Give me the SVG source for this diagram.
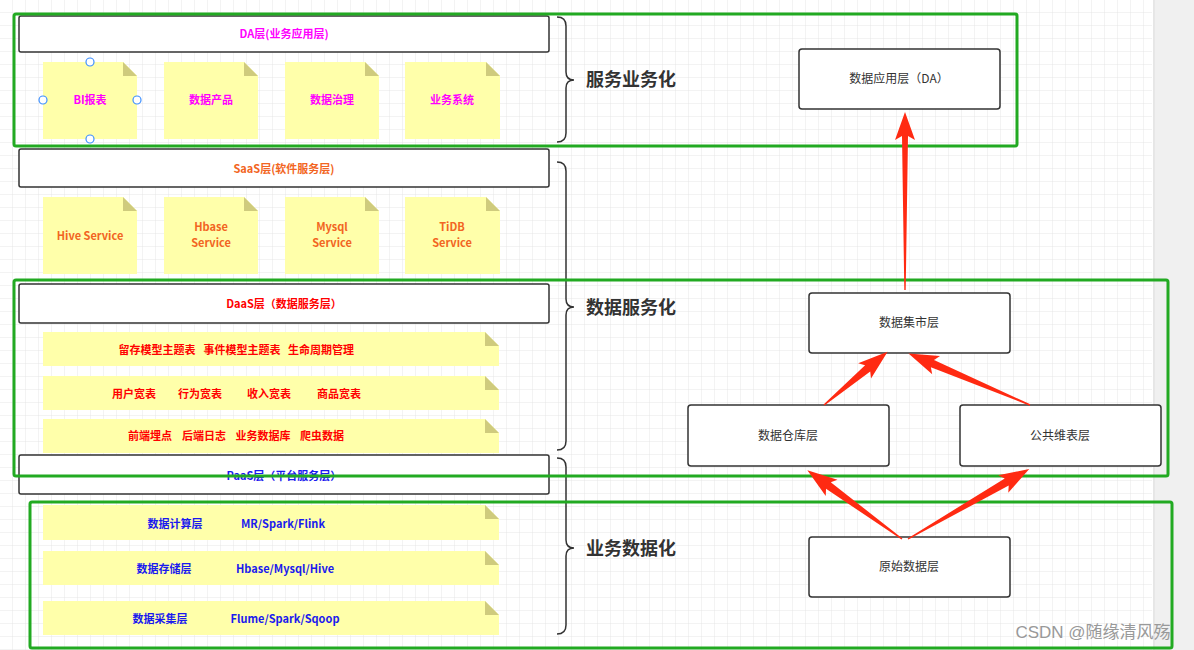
<svg xmlns="http://www.w3.org/2000/svg" width="1194" height="650" viewBox="0 0 1194 650">
<defs>
<pattern id="grid" width="13" height="13" patternUnits="userSpaceOnUse"><path d="M13 0V13H0" fill="none" stroke="#e6e6e6" stroke-width="1"/></pattern>
<style>
.hdr{fill:#fff;stroke:#333;stroke-width:1.5}
.note{fill:#ffffaa}
.fold{fill:#cfcb7d}
.grn{fill:none;stroke:#22aa22;stroke-width:3}
.box{fill:#fff;stroke:#333;stroke-width:1.5}
.brace{fill:none;stroke:#333;stroke-width:1.5}
.arr{fill:#ff2a12}
text{font-family:"Noto Sans CJK SC","Liberation Sans",sans-serif;text-anchor:middle}
.t{font-size:11px;font-weight:bold}
.big{font-size:18px;font-weight:bold;fill:#333;text-anchor:start}
.bt{font-size:12px;fill:#333}
.m{fill:#ff00ff}.o{fill:#f26522}.r{fill:#ff0000}.b{fill:#1a1aee}
.h{fill:#fff;stroke:#3d8fff;stroke-width:1.2}
</style>
</defs>
<rect width="1194" height="650" fill="#fff"/>
<rect x="0" y="0" width="1152" height="650" fill="url(#grid)"/>
<rect x="1153" y="0" width="41" height="650" fill="#f0f0f0"/>
<line x1="1154" y1="0" x2="1154" y2="650" stroke="#ddd"/>

<g id="da-layer">
<rect class="hdr" x="19" y="16" width="530" height="36" rx="2"/>
<text class="t m" x="284" y="38">DA层(业务应用层)</text>
</g>
<g id="da-notes">
<path class="note" d="M43 62H123L137 76V139H43Z"/><path class="fold" d="M123 62L137 76H123Z"/><text class="t m" x="90" y="104">BI报表</text>
<path class="note" d="M164 62H244L258 76V139H164Z"/><path class="fold" d="M244 62L258 76H244Z"/><text class="t m" x="211" y="104">数据产品</text>
<path class="note" d="M285 62H365L379 76V139H285Z"/><path class="fold" d="M365 62L379 76H365Z"/><text class="t m" x="332" y="104">数据治理</text>
<path class="note" d="M405 62H486L500 76V139H405Z"/><path class="fold" d="M486 62L500 76H486Z"/><text class="t m" x="452" y="104">业务系统</text>
<circle class="h" cx="90" cy="62" r="4"/><circle class="h" cx="43" cy="100" r="4"/><circle class="h" cx="137" cy="100" r="4"/><circle class="h" cx="90" cy="139" r="4"/>
</g>
<g id="saas-layer">
<rect class="hdr" x="19" y="149" width="530" height="38" rx="2"/>
<text class="t o" x="284" y="173">SaaS层(软件服务层)</text>
</g>
<g id="saas-notes">
<path class="note" d="M43 197H123L137 211V274H43Z"/><path class="fold" d="M123 197L137 211H123Z"/><text class="t o" x="90" y="240">Hive Service</text>
<path class="note" d="M164 197H244L258 211V274H164Z"/><path class="fold" d="M244 197L258 211H244Z"/><text class="t o" x="211" y="231">Hbase</text><text class="t o" x="211" y="247">Service</text>
<path class="note" d="M285 197H365L379 211V274H285Z"/><path class="fold" d="M365 197L379 211H365Z"/><text class="t o" x="332" y="231">Mysql</text><text class="t o" x="332" y="247">Service</text>
<path class="note" d="M405 197H486L500 211V274H405Z"/><path class="fold" d="M486 197L500 211H486Z"/><text class="t o" x="452" y="231">TiDB</text><text class="t o" x="452" y="247">Service</text>
</g>
<g id="daas-layer">
<rect class="hdr" x="19" y="284" width="530" height="39" rx="2"/>
<text class="t r" x="284" y="308">DaaS层（数据服务层）</text>
</g>
<g id="daas-notes">
<path class="note" d="M43 332H485L499 346V366H43Z"/><path class="fold" d="M485 332L499 346H485Z"/>
<text class="t r" x="157" y="354">留存模型主题表</text>
<text class="t r" x="242" y="354">事件模型主题表</text><text class="t r" x="321" y="354">生命周期管理</text>
<path class="note" d="M43 376H485L499 390V410H43Z"/><path class="fold" d="M485 376L499 390H485Z"/>
<text class="t r" x="134" y="398">用户宽表</text><text class="t r" x="200" y="398">行为宽表</text><text class="t r" x="269" y="398">收入宽表</text><text class="t r" x="339" y="398">商品宽表</text>
<path class="note" d="M43 419H485L499 433V453H43Z"/><path class="fold" d="M485 419L499 433H485Z"/>
<text class="t r" x="150" y="440">前端埋点</text><text class="t r" x="204" y="440">后端日志</text><text class="t r" x="263" y="440">业务数据库</text><text class="t r" x="322" y="440">爬虫数据</text>
</g>
<g id="paas-layer">
<rect class="hdr" x="19" y="455" width="530" height="39" rx="2"/>
<text class="t b" x="284" y="480">PaaS层（平台服务层）</text>
</g>
<g id="paas-notes">
<path class="note" d="M43 505H485L499 519V540H43Z"/><path class="fold" d="M485 505L499 519H485Z"/>
<text class="t b" x="175" y="528">数据计算层</text><text class="t b" x="283" y="528">MR/Spark/Flink</text>
<path class="note" d="M43 551H485L499 565V585H43Z"/><path class="fold" d="M485 551L499 565H485Z"/>
<text class="t b" x="164" y="573">数据存储层</text><text class="t b" x="285" y="573">Hbase/Mysql/Hive</text>
<path class="note" d="M43 601H485L499 615V635H43Z"/><path class="fold" d="M485 601L499 615H485Z"/>
<text class="t b" x="160" y="623">数据采集层</text><text class="t b" x="285" y="623">Flume/Spark/Sqoop</text>
</g>
<g id="braces">
<path class="brace" d="M557 17Q566 17 566 26V72Q566 80 574 80Q566 80 566 88V133Q566 142 557 142"/>
<path class="brace" d="M557 162Q566 162 566 171V299Q566 307 574 307Q566 307 566 315V441Q566 450 557 450"/>
<path class="brace" d="M557 458Q566 458 566 467V540Q566 548 574 548Q566 548 566 556V625Q566 634 557 634"/>
<text class="big" x="586" y="86">服务业务化</text>
<text class="big" x="586" y="314">数据服务化</text>
<text class="big" x="586" y="555">业务数据化</text>
</g>
<g id="green-groups">
<rect class="grn" x="14" y="14" width="1003" height="132" rx="2"/>
<rect class="grn" x="14" y="280" width="1154" height="196" rx="2"/>
<rect class="grn" x="30" y="502" width="1142" height="146" rx="2"/>
</g>
<g id="node-da"><rect class="box" x="799" y="49" width="201" height="60" rx="3"/><text class="bt" x="899" y="83">数据应用层（DA）</text></g>
<g id="node-mart"><rect class="box" x="809" y="293" width="201" height="60" rx="3"/><text class="bt" x="909" y="327">数据集市层</text></g>
<g id="node-dw"><rect class="box" x="688" y="405" width="201" height="61" rx="3"/><text class="bt" x="788" y="440">数据仓库层</text></g>
<g id="node-dim"><rect class="box" x="960" y="405" width="201" height="61" rx="3"/><text class="bt" x="1060" y="440">公共维表层</text></g>
<g id="node-raw"><rect class="box" x="809" y="537" width="201" height="60" rx="3"/><text class="bt" x="909" y="571">原始数据层</text></g>
<g id="connectors">
<polygon class="arr" transform="translate(905,290) rotate(-90)" points="0,-0.7 154,-3 150,-10 178,0 150,10 154,3 0,0.7"/>
<polygon class="arr" transform="translate(824,405) rotate(-40)" points="0,-0.7 57,-4 53,-10 83,0 53,10 57,4 0,0.7"/>
<polygon class="arr" transform="translate(1030,405) rotate(-157)" points="0,-0.7 106,-4 102,-10 132,0 102,10 106,4 0,0.7"/>
<polygon class="arr" transform="translate(902,539) rotate(-144)" points="0,-0.7 91,-4 87,-10 117,0 87,10 91,4 0,0.7"/>
<polygon class="arr" transform="translate(908,539) rotate(-30)" points="0,-0.7 114,-4 110,-10 140,0 110,10 114,4 0,0.7"/>
</g>
<text x="1093" y="638" style="font-size:17px;fill:#999;font-family:'Liberation Sans','Noto Sans CJK SC',sans-serif">CSDN @随缘清风殇</text>
</svg>
